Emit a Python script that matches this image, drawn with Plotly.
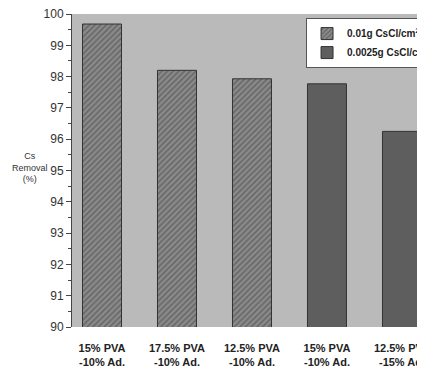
import plotly.graph_objects as go

categories = ["15% PVA<br>-10% Ad.", "17.5% PVA<br>-10% Ad.", "12.5% PVA<br>-10% Ad.",
              "15% PVA<br>-10% Ad.", "12.5% PVA<br>-15% Ad."]
x_idx = [0, 1, 2, 3, 4]
series1_name = "<b>0.01g CsCl/cm<sup>2</sup></b>"
series1_x = [0, 1, 2]
series1_vals = [99.68, 98.2, 97.93]
series2_name = "<b>0.0025g CsCl/cm<sup>2</sup></b>"
series2_x = [3, 4]
series2_vals = [97.77, 96.25]
y_ticks = [90, 91, 92, 93, 94, 95, 96, 97, 98, 99, 100]

narrow = "Liberation Sans Narrow, Arial Narrow, Liberation Sans, Arial"

fig = go.Figure()
fig.add_trace(go.Bar(
    x=series1_x, y=series1_vals, name=series1_name, width=0.52,
    marker=dict(color="#8a8a8a",
                pattern=dict(shape="/", fgcolor="#3a3a3a", bgcolor="#8a8a8a", size=4, solidity=0.35),
                line=dict(color="#333333", width=1)),
))
fig.add_trace(go.Bar(
    x=series2_x, y=series2_vals, name=series2_name, width=0.52,
    marker=dict(color="#5e5e5e", line=dict(color="#333333", width=1)),
))

fig.update_layout(
    width=425, height=374,
    barmode="overlay",
    paper_bgcolor="white", plot_bgcolor="#bababa",
    margin=dict(l=64, r=8, t=6, b=55, autoexpand=False),
    font=dict(family="Liberation Sans, Arial", size=11, color="#333333"),
    showlegend=True,
    legend=dict(x=0.663, y=0.987, xanchor="left", yanchor="top",
                bgcolor="white", bordercolor="#555555", borderwidth=1,
                font=dict(size=10, color="#222222", family=narrow),
                tracegroupgap=0, itemwidth=30),
    xaxis=dict(range=[-0.4, 4.307], tickmode="array", tickvals=x_idx, ticktext=["<b>"+c+"</b>" for c in categories],
               showgrid=False, zeroline=False, ticks="", showline=False, ticklabelstandoff=13,
               ticklabeloverflow="allow",
               tickfont=dict(size=11, color="#222222", family=narrow)),
    yaxis=dict(range=[90, 100], tickmode="array", tickvals=y_ticks, ticks="outside", ticklen=5,
               tickcolor="#444444", showline=True, linecolor="#444444", linewidth=1,
               ticklabeloverflow="allow",
               showgrid=False, zeroline=False, tickfont=dict(size=12, color="#333333"),
               minor=dict(ticks="outside", ticklen=3, dtick=0.5, tickcolor="#444444")),
)
fig.add_annotation(text="Cs<br>Removal<br>(%)", xref="paper", yref="paper", x=-0.176, y=0.508,
                   xanchor="left", yanchor="middle", showarrow=False,
                   font=dict(size=9, color="#333333", family=narrow), align="center")
fig.write_html("out.html")
